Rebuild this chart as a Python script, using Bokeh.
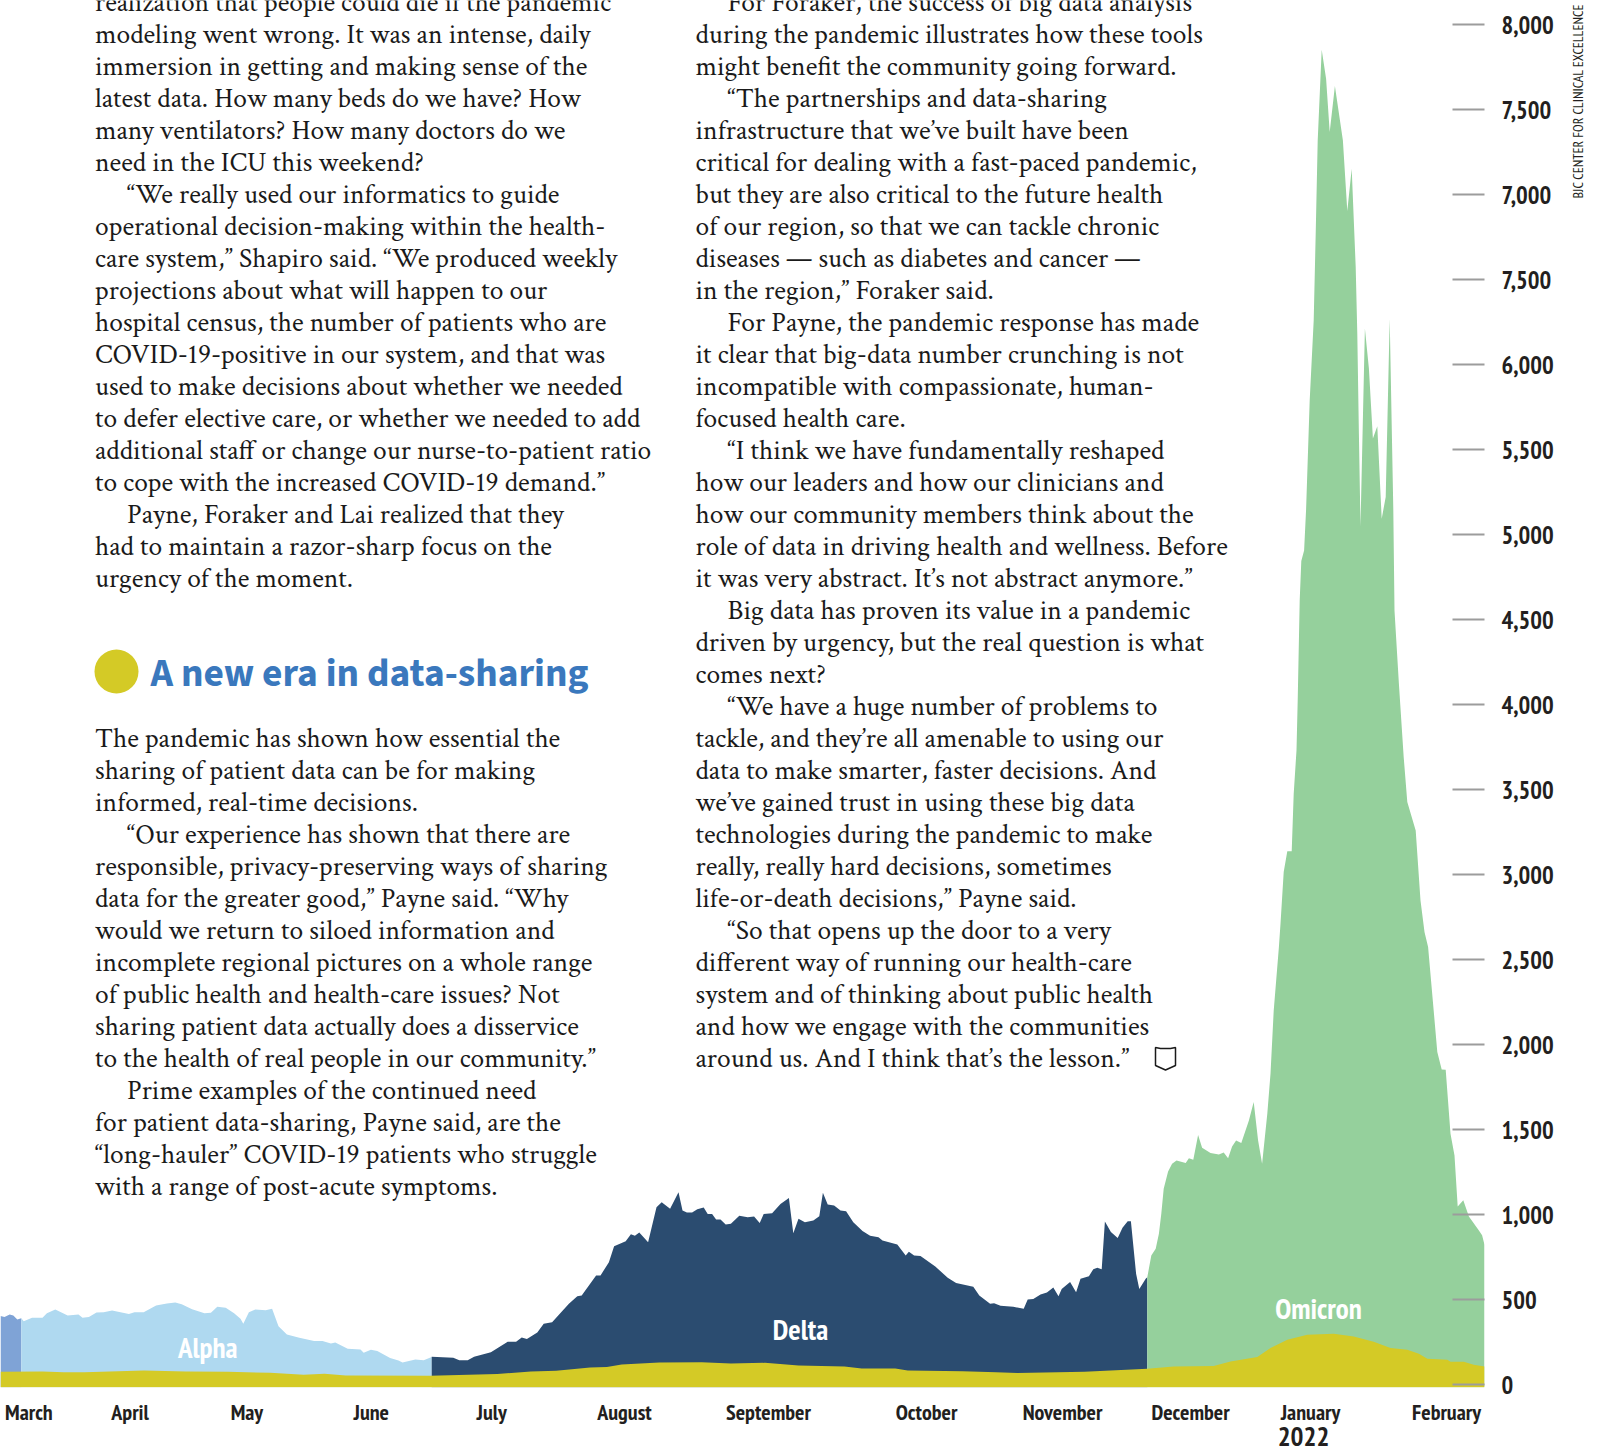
from bokeh.plotting import figure
from bokeh.embed import file_html
from bokeh.resources import INLINE
from bokeh.models import Range1d, LinearAxis, FixedTicker
from bokeh.core.properties import value
import math

# ---- data: x in days since chart start, y in daily cases
early_days = [0, 1, 2.3, 3.2, 4.2, 5.2]
early_vals = [404, 398, 413, 408, 384, 392]

alpha_days = [5.2, 5.8, 7.9, 10.5, 11.6, 13.7, 16.8, 19.5, 20.5, 22.1, 24, 25.8, 27.9, 32.1, 33.5, 35.8, 38.9, 41.6, 43.7, 45.3, 47.9, 51, 52.6, 54.2, 56.3, 58.4, 60, 60.7, 62.1, 63.7, 66.3, 67.9, 69.5, 71.6, 74.7, 78.4, 80.5, 82.6, 83.7, 86.8, 90, 90.8, 92.6, 94.2, 97.4, 99.5, 100.5, 103.7, 105.8, 107.8]
alpha_vals = [392, 374, 394, 394, 421, 443, 408, 413, 394, 398, 425, 427, 437, 416, 427, 427, 466, 478, 484, 474, 445, 421, 423, 459, 453, 421, 388, 359, 427, 443, 439, 447, 345, 296, 276, 257, 257, 243, 249, 212, 208, 188, 206, 198, 157, 143, 131, 149, 145, 163]

delta_days = [107.8, 113.2, 114.7, 116.8, 118.4, 122.6, 126.8, 128.9, 130.3, 131.6, 134.2, 135.8, 137.9, 142.1, 144.2, 145.3, 148.9, 150, 152.1, 153.4, 156.3, 157.6, 158.6, 159.7, 161.9, 164, 165.3, 167.4, 169.5, 170.5, 171.6, 172.9, 174.2, 175.8, 176.8, 177.9, 178.9, 180, 181.3, 182.6, 184.7, 186.8, 188.4, 189.8, 190.8, 192.9, 195, 197.1, 198.2, 199.5, 201.1, 203.2, 204.7, 205.6, 206.8, 208.4, 210, 211.4, 213.2, 215.5, 217.4, 219.5, 220.5, 224.2, 226.3, 227.1, 228.4, 230, 233.7, 236.8, 238.9, 243.2, 244.7, 247.4, 248.4, 250, 253.2, 255.8, 256.8, 258.2, 260, 261.6, 263.2, 264.5, 265.3, 267.4, 268.9, 270, 272.1, 273.2, 274.2, 275.3, 276.1, 277.6, 279.3, 280.5, 281.8, 282.6, 283.9, 284.7, 286.3, 286.7]
delta_vals = [165, 159, 145, 145, 165, 192, 253, 253, 278, 269, 308, 359, 368, 476, 521, 525, 643, 643, 721, 815, 845, 886, 876, 896, 839, 1045, 1074, 1035, 1133, 1025, 1013, 1013, 1033, 1043, 1005, 1005, 972, 972, 943, 947, 994, 986, 990, 951, 1005, 1009, 1064, 1098, 892, 976, 956, 966, 992, 1129, 1060, 1054, 1025, 1021, 956, 904, 876, 868, 849, 825, 760, 782, 760, 757, 696, 629, 598, 576, 525, 476, 480, 465, 459, 447, 502, 504, 531, 543, 572, 521, 564, 604, 545, 623, 639, 680, 688, 680, 960, 898, 864, 923, 962, 962, 653, 564, 623, 633]

omicron_days = [286.7, 287.7, 288.8, 289.6, 290.2, 290.8, 291.9, 292.9, 294, 296.3, 297.1, 298.2, 299.4, 300.4, 302.5, 304.6, 305.8, 306.9, 307.9, 308.9, 310.2, 312.1, 313.3, 314.4, 315.4, 316.7, 317.5, 318.3, 319.6, 320, 320.8, 321.7, 322.8, 323.3, 324, 324.3, 324.8, 325.2, 325.9, 326.4, 327.3, 328.3, 328.8, 329.3, 330.3, 331.4, 332.3, 333.6, 335.6, 336.7, 337.8, 338.8, 339.2, 339.6, 340, 341.1, 342.1, 343.1, 344.2, 345.3, 346.3, 347.3, 348.2, 348.5, 349.6, 350.8, 351.7, 353.8, 355, 356, 356.9, 358.3, 359.2, 360.3, 361.3, 362.5, 363.5, 364.3, 365.7, 367.1, 369.6, 370.4, 371]
omicron_vals = [633, 761, 800, 888, 1006, 1153, 1255, 1300, 1320, 1304, 1333, 1324, 1469, 1394, 1363, 1355, 1367, 1333, 1402, 1437, 1422, 1555, 1663, 1437, 1300, 1594, 1830, 2200, 2575, 2712, 3016, 3138, 3138, 3477, 3732, 4026, 4614, 4846, 4908, 5150, 5791, 6262, 6772, 7320, 7854, 7683, 7370, 7640, 7320, 6905, 7154, 6575, 6183, 5595, 5050, 6213, 5978, 5566, 5638, 5095, 5222, 6271, 5150, 4555, 4124, 3692, 3428, 3261, 2849, 2663, 2575, 2200, 1957, 1855, 1853, 1477, 1349, 1049, 1085, 990, 908, 879, 824]

hospital_days = [0, 10.5, 15.8, 21, 35.8, 46.3, 56.8, 67.4, 75.8, 81, 86.3, 107.4, 124.2, 132.6, 138.9, 147.4, 151.6, 155.3, 164.7, 175.3, 182.6, 191.1, 199.5, 211, 215.3, 223.7, 226.8, 240.5, 248.9, 254.2, 271, 286.7, 293.3, 303.3, 307.5, 314.2, 317.5, 321.7, 326.7, 333.3, 338.3, 343.3, 347.5, 351.7, 354.6, 356.7, 361.7, 362.5, 365.8, 368.3, 371]
hospital_vals = [76, 78, 74, 74, 84, 78, 76, 71, 59, 65, 55, 53, 63, 78, 82, 102, 104, 120, 131, 133, 125, 129, 114, 108, 96, 96, 84, 80, 73, 69, 76, 94, 108, 110, 137, 163, 216, 265, 294, 300, 284, 253, 216, 206, 182, 153, 147, 135, 135, 118, 108]

month_labels = ["March", "April", "May", "June", "July", "August", "September", "October", "November", "December", "January", "February"]
month_days = [7.1, 32.4, 61.6, 92.7, 122.8, 156, 192, 231.5, 265.5, 297.5, 327.5, 361.5]

y_ticks = [0, 500, 1000, 1500, 2000, 2500, 3000, 3500, 4000, 4500, 5000, 5500, 6000, 6500, 7000, 7500, 8000]
y_tick_labels = ["0", "500", "1,000", "1,500", "2,000", "2,500", "3,000", "3,500", "4,000", "4,500", "5,000", "5,500", "6,000", "7,500", "7,000", "7,500", "8,000"]

variant_names = ["Alpha", "Delta", "Omicron"]
variant_days = [51.8, 200, 329.5]
variant_vals = [222, 326, 453]

left_top = [
    "realization that people could die if the pandemic",
    "modeling went wrong. It was an intense, daily",
    "immersion in getting and making sense of the",
    "latest data. How many beds do we have? How",
    "many ventilators? How many doctors do we",
    "need in the ICU this weekend?",
    "    “We really used our informatics to guide",
    "operational decision-making within the health-",
    "care system,” Shapiro said. “We produced weekly",
    "projections about what will happen to our",
    "hospital census, the number of patients who are",
    "COVID-19-positive in our system, and that was",
    "used to make decisions about whether we needed",
    "to defer elective care, or whether we needed to add",
    "additional staff or change our nurse-to-patient ratio",
    "to cope with the increased COVID-19 demand.”",
    "    Payne, Foraker and Lai realized that they",
    "had to maintain a razor-sharp focus on the",
    "urgency of the moment.",
]
left_bottom = [
    "The pandemic has shown how essential the",
    "sharing of patient data can be for making",
    "informed, real-time decisions.",
    "    “Our experience has shown that there are",
    "responsible, privacy-preserving ways of sharing",
    "data for the greater good,” Payne said. “Why",
    "would we return to siloed information and",
    "incomplete regional pictures on a whole range",
    "of public health and health-care issues? Not",
    "sharing patient data actually does a disservice",
    "to the health of real people in our community.”",
    "    Prime examples of the continued need",
    "for patient data-sharing, Payne said, are the",
    "“long-hauler” COVID-19 patients who struggle",
    "with a range of post-acute symptoms.",
]
right_col = [
    "    For Foraker, the success of big data analysis",
    "during the pandemic illustrates how these tools",
    "might benefit the community going forward.",
    "    “The partnerships and data-sharing",
    "infrastructure that we’ve built have been",
    "critical for dealing with a fast-paced pandemic,",
    "but they are also critical to the future health",
    "of our region, so that we can tackle chronic",
    "diseases — such as diabetes and cancer —",
    "in the region,” Foraker said.",
    "    For Payne, the pandemic response has made",
    "it clear that big-data number crunching is not",
    "incompatible with compassionate, human-",
    "focused health care.",
    "    “I think we have fundamentally reshaped",
    "how our leaders and how our clinicians and",
    "how our community members think about the",
    "role of data in driving health and wellness. Before",
    "it was very abstract. It’s not abstract anymore.”",
    "    Big data has proven its value in a pandemic",
    "driven by urgency, but the real question is what",
    "comes next?",
    "    “We have a huge number of problems to",
    "tackle, and they’re all amenable to using our",
    "data to make smarter, faster decisions. And",
    "we’ve gained trust in using these big data",
    "technologies during the pandemic to make",
    "really, really hard decisions, sometimes",
    "life-or-death decisions,” Payne said.",
    "    “So that opens up the door to a very",
    "different way of running our health-care",
    "system and of thinking about public health",
    "and how we engage with the communities",
    "around us. And I think that’s the lesson.”",
]
heading = "A new era in data-sharing"
source = "BJC CENTER FOR CLINICAL EXCELLENCE"
source_at = 6978
year = "2022"
year_at = 325.75

# ---- figure
W, H = 1597, 1449
FRAME_W, FRAME_H = 1484, 1387
EXTRA = 15
BASE = -14
NARROW = "'PT Sans Narrow', 'Liberation Sans'"
SERIF = "'Crimson Text', 'Liberation Serif'"
HEAD = "'Source Sans 3', Lato"

p = figure(width=W + EXTRA, height=H + EXTRA, output_backend="svg", toolbar_location=None,
           x_range=Range1d(0, 371), y_range=Range1d(-16, 8143),
           min_border_left=0, min_border_top=0, min_border_right=W + EXTRA - FRAME_W,
           min_border_bottom=H + EXTRA - FRAME_H, x_axis_location=None, y_axis_location=None)
p.styles = {"margin-bottom": f"-{EXTRA}px", "margin-right": f"-{EXTRA}px"}
p.outline_line_color = None
p.grid.visible = False
p.background_fill_color = "white"
p.extra_x_ranges["page"] = Range1d(0, FRAME_W)
p.extra_y_ranges["page"] = Range1d(FRAME_H, 0)

def band(days, vals, color):
    p.varea(x=days, y1=[BASE] * len(days), y2=vals, fill_color=color)

band(early_days, early_vals, "#7FA3D6")
band(alpha_days, alpha_vals, "#AFD9F0")
band(delta_days, delta_vals, "#2B4C70")
band(omicron_days, omicron_vals, "#95D09C")
band(hospital_days, hospital_vals, "#D4CA26")

p.text(x=variant_days, y=variant_vals, text=variant_names, text_color="white",
       text_font=value(NARROW), text_font_style="bold", text_font_size="29px",
       text_align="center", text_baseline="middle")

def style_axis(ax, standoff, size, bold=True):
    ax.axis_line_color = None
    ax.minor_tick_line_color = None
    ax.major_tick_line_color = None
    ax.major_label_standoff = standoff
    ax.major_label_text_font = NARROW
    ax.major_label_text_font_style = "bold" if bold else "normal"
    ax.major_label_text_font_size = size
    ax.major_label_text_color = "#231f20"

yax = LinearAxis(ticker=FixedTicker(ticks=y_ticks),
                 major_label_overrides=dict(zip(y_ticks, y_tick_labels)))
style_axis(yax, 17, "24.5px")
yax.major_tick_in = 32
yax.major_tick_out = 0
yax.major_tick_line_color = "#9c9c9c"
yax.major_tick_line_width = 2
p.add_layout(yax, "right")

srcax = LinearAxis(ticker=FixedTicker(ticks=[source_at]),
                   major_label_overrides={source_at: source},
                   major_label_orientation=math.pi / 2)
style_axis(srcax, 22, "14px", bold=False)
srcax.major_tick_in = 0
srcax.major_tick_out = 0
p.add_layout(srcax, "right")

xax = LinearAxis(ticker=FixedTicker(ticks=month_days),
                 major_label_overrides=dict(zip(month_days, month_labels)))
style_axis(xax, 4, "22px")
p.add_layout(xax, "below")

yrax = LinearAxis(ticker=FixedTicker(ticks=[year_at]),
                  major_label_overrides={year_at: year})
style_axis(yrax, -8, "27px")
p.add_layout(yrax, "below")

# ---- page text
def column(lines, x0, indent, y0):
    xs, ys, ts = [], [], []
    for i, t in enumerate(lines):
        xs.append(x0 + indent if t.startswith("    ") else x0)
        ys.append(y0 + i * 32.02)
        ts.append(t.strip())
    p.text(x=xs, y=ys, text=ts, x_range_name="page", y_range_name="page",
           text_font=value(SERIF), text_font_size="27.5px", text_color="#1a1a1a",
           text_align="left", text_baseline="middle")

column(left_top, 94.5, 32, 2)
column(left_bottom, 94.5, 32, 738.5)
column(right_col, 695, 32, 2)

p.scatter(x=[116], y=[671], size=44, marker="circle", fill_color="#D4CA26", line_color=None,
          x_range_name="page", y_range_name="page")
p.text(x=[150], y=[673], text=[heading], x_range_name="page", y_range_name="page",
       text_font=value(HEAD), text_font_style="bold", text_font_size="39.4px",
       text_color="#3A78BD", text_align="left", text_baseline="middle")

# end-of-story shield mark
p.patch(x=[1155, 1160, 1170, 1175, 1175, 1165, 1155], y=[1047, 1048, 1048, 1047, 1065, 1069.5, 1065],
        x_range_name="page", y_range_name="page",
        fill_color="white", line_color="#1a1a1a", line_width=1.5)

open("out.html", "w").write(file_html(p, INLINE))
